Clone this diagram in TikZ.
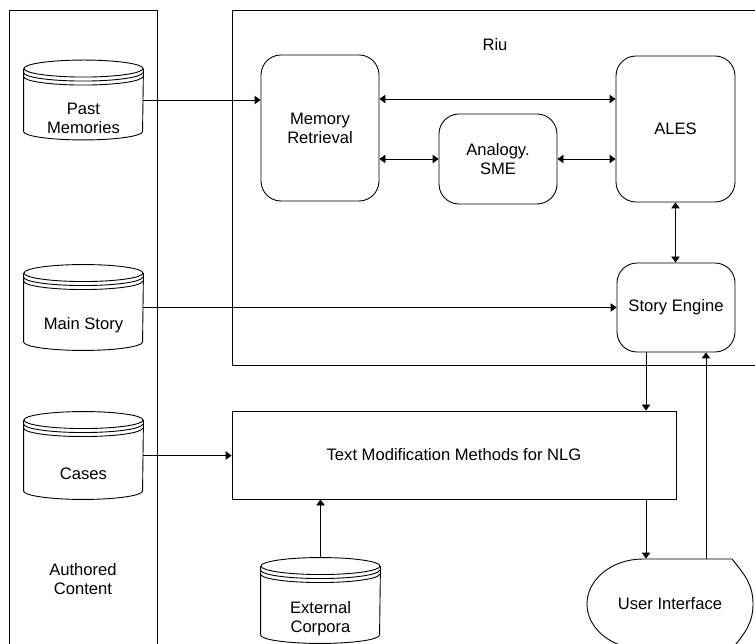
\documentclass[tikz,border=0pt]{standalone}
\usepackage{fontspec}
\setmainfont{Liberation Sans}
\usetikzlibrary{arrows.meta, positioning, calc}

\begin{document}
\begin{tikzpicture}[x=1pt, y=1pt, line width=0.9pt,
    every node/.style={font=\fontsize{16.6}{19}\selectfont},
    panel/.style={rectangle, draw, inner sep=0pt},
    module/.style={rectangle, rounded corners=20pt, draw, align=center, minimum width=118pt, minimum height=#1},
    datastore/.style={rectangle, inner sep=0pt, minimum width=119pt, minimum height=#1},
    dslabel/.style={align=center, yshift=-18pt},
    arr/.style={-{Triangle[length=6pt, width=8.5pt]}},
    biarr/.style={{Triangle[length=6pt, width=8.5pt]}-{Triangle[length=6pt, width=8.5pt]}},
]
    \useasboundingbox (0,0) rectangle (755,643);

    % containers
    \node[panel, minimum width=148pt, minimum height=650pt] (authored) at (83,308) {};
    \node[panel, minimum width=533pt, minimum height=355pt] (riu) at (498.5,455.5) {};
    \node (riulabel) at (495,598) {Riu};
    \node[align=center] (authlabel) at (83,64) {Authored\\Content};

    % data stores
    \node[datastore=79pt, label={[dslabel]center:Past\\Memories}] (pm) at (83.5,543) {};
    \node[datastore=85pt, label={[dslabel]center:Main Story}] (ms) at (83.5,335.5) {};
    \node[datastore=87pt, label={[dslabel]center:Cases}] (cs) at (83.5,187.5) {};
    \node[datastore=85pt, label={[dslabel]center:External\\Corpora}] (ec) at (320.5,42.5) {};
    \foreach \n in {pm, ms, cs, ec} {
        \draw ($(\n.north west)+(0pt,-8.5pt)$) -- ($(\n.south west)+(0pt,8.5pt)$)
            arc[start angle=180, end angle=360, x radius=59.5pt, y radius=8.5pt]
            -- ($(\n.north east)+(0pt,-8.5pt)$);
        \draw ($(\n.north)+(0pt,-8.5pt)$) ellipse [x radius=59.5pt, y radius=8.5pt];
        \foreach \d in {12.5, 16.5}
            \draw ($(\n.north west)+(0pt,-\d pt)$) arc[start angle=180, end angle=360, x radius=59.5pt, y radius=8.5pt];
    }

    % Riu modules
    \node[module=146pt] (mr) at (320,515) {Memory\\Retrieval};
    \node[module=90pt] (an) at (498,484) {Analogy.\\SME};
    \node[module=146pt, minimum width=119pt] (ales) at (675.5,514) {ALES};
    \node[module=89pt] (se) at (676,335.5) {Story Engine};

    \node[rectangle, draw, minimum width=444pt, minimum height=88pt] (tm) at (454,188) {Text Modification Methods for NLG};

    % user interface
    \node[minimum width=166pt, minimum height=90pt] (ui) at (670,39) {User Interface};
    \draw ([shift={(-27pt,45pt)}]ui.center) -- ([shift={(62pt,45pt)}]ui.center)
        .. controls ([shift={(74pt,30pt)}]ui.center) and ([shift={(83pt,20pt)}]ui.center) .. ([shift={(83pt,0pt)}]ui.center)
        .. controls ([shift={(83pt,-20pt)}]ui.center) and ([shift={(74pt,-30pt)}]ui.center) .. ([shift={(62pt,-45pt)}]ui.center)
        -- ([shift={(-27pt,-45pt)}]ui.center)
        arc[start angle=270, end angle=90, x radius=56pt, y radius=45pt];

    % connectors
    \draw[arr] (pm.east) -- (pm.east -| mr.west);
    \draw[biarr] ([yshift=29pt]mr.east) -- ([yshift=29pt]mr.east -| ales.west);
    \draw[biarr] (an.west -| mr.east) -- (an.west);
    \draw[biarr] (an.east) -- (an.east -| ales.west);
    \draw[biarr] (ales.south) -- (ales.south |- se.north);
    \draw[arr] (ms.east) -- (ms.east -| se.west);
    \draw[arr] ([xshift=-30pt]se.south) -- ([xshift=-30pt]se.south |- tm.north);
    \draw[arr] ([xshift=-30pt]se.south |- tm.south) -- ([xshift=-30pt]se.south |- ui.north);
    \draw[arr] ([xshift=30pt]se.south |- ui.north) -- ([xshift=30pt]se.south);
    \draw[arr] (cs.east) -- (cs.east -| tm.west);
    \draw[arr] (ec.north) -- (ec.north |- tm.south);
\end{tikzpicture}
\end{document}
